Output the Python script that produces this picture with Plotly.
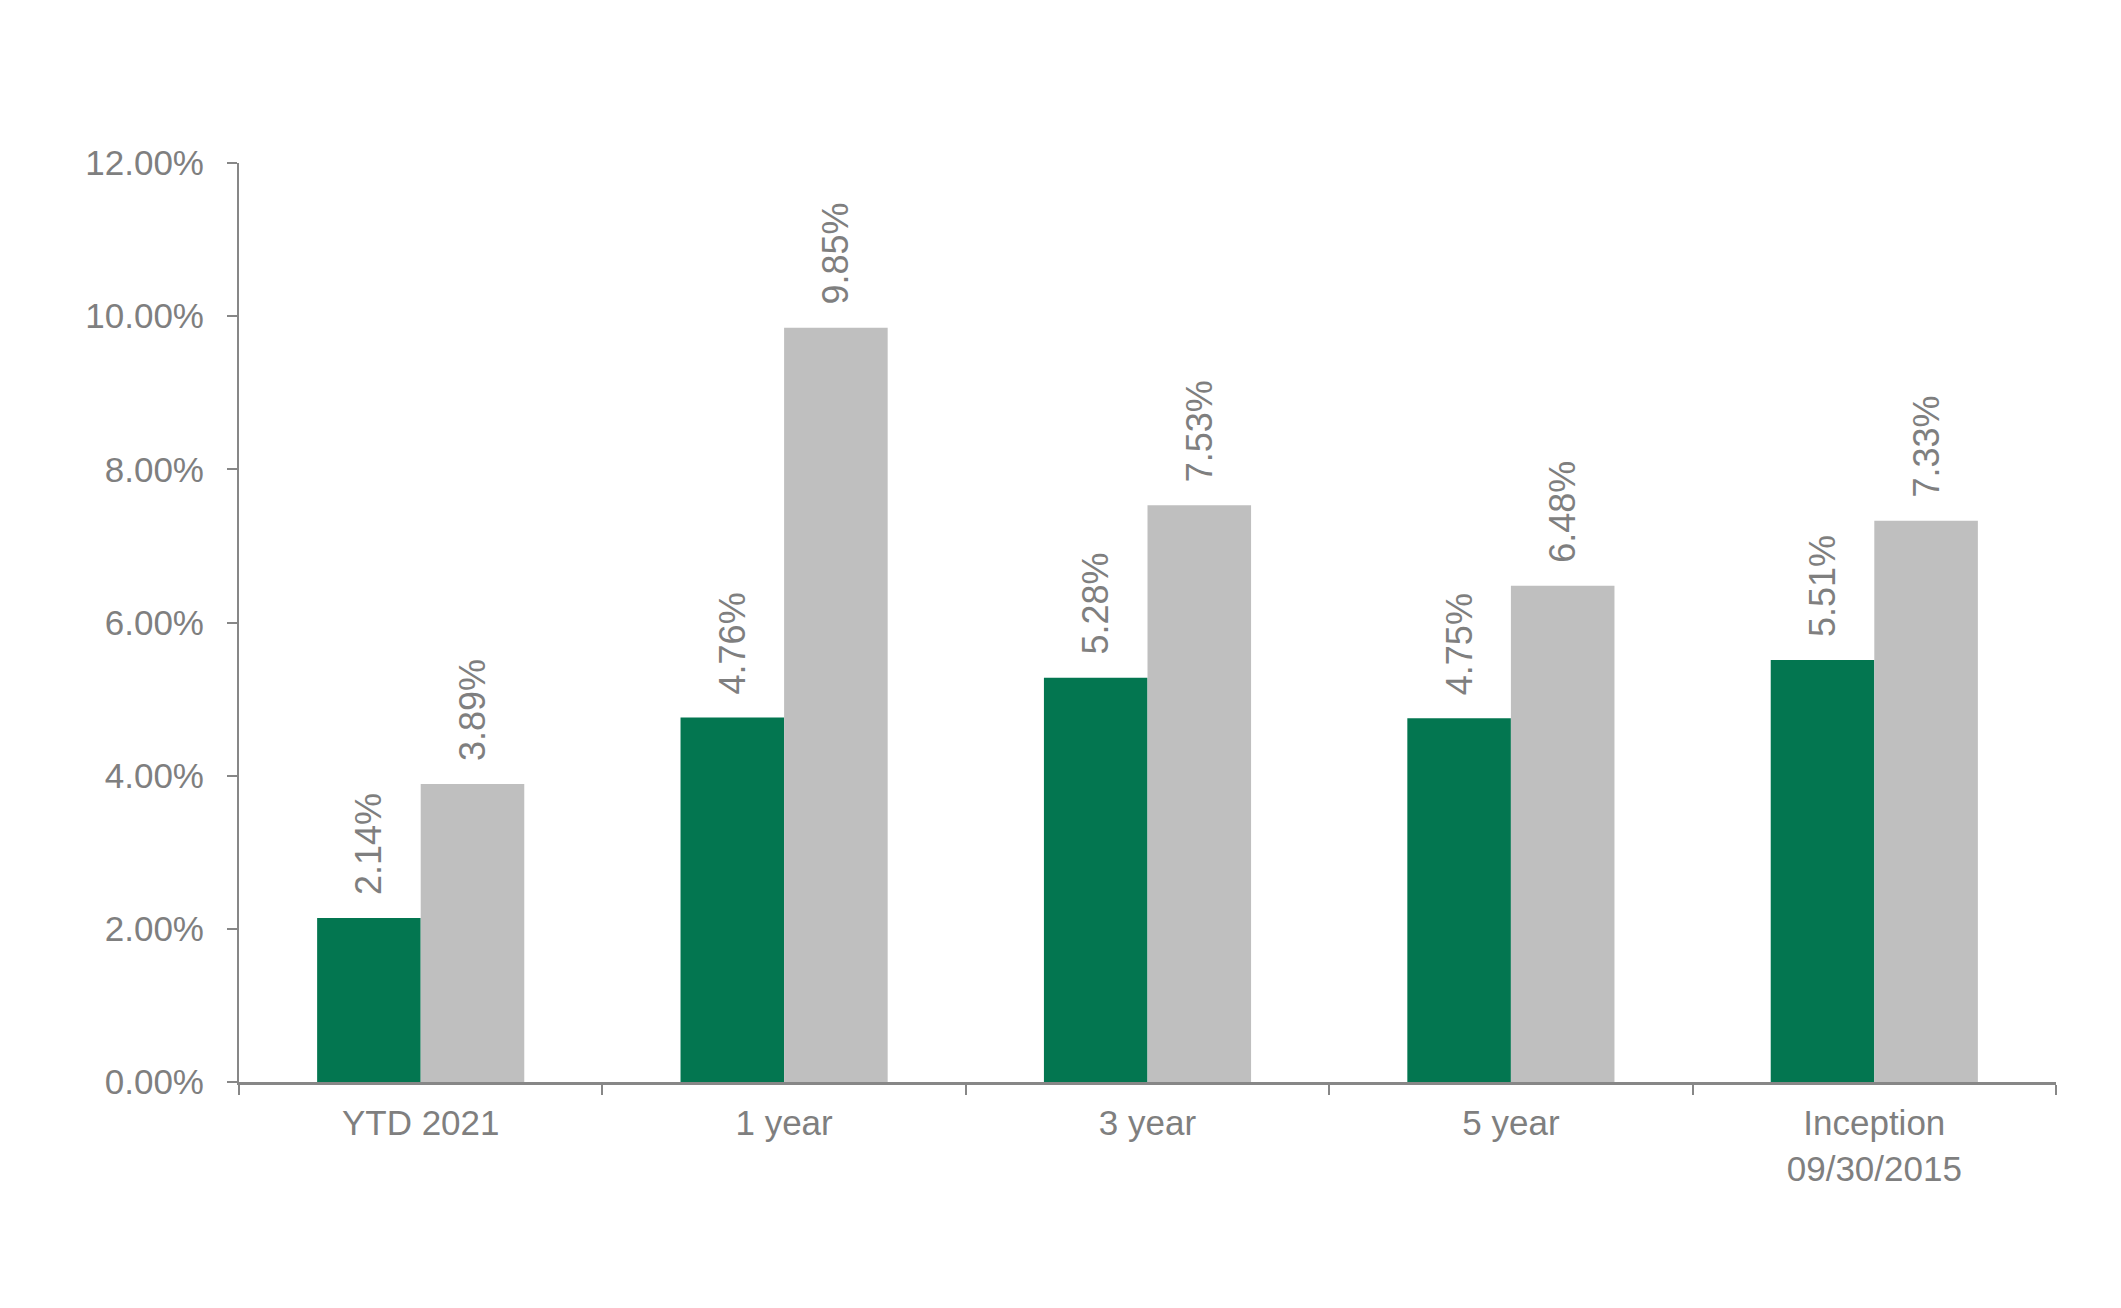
import plotly.graph_objects as go

categories = ["YTD 2021", "1 year", "3 year", "5 year", "Inception<br>09/30/2015"]
fund_returns = [2.14, 4.76, 5.28, 4.75, 5.51]
benchmark_returns = [3.89, 9.85, 7.53, 6.48, 7.33]
y_ticks = [0, 2, 4, 6, 8, 10, 12]
y_tick_labels = ["0.00%", "2.00%", "4.00%", "6.00%", "8.00%", "10.00%", "12.00%"]

GREEN = "#037650"
LIGHT_GRAY = "#BFBFBF"
TEXT_GRAY = "#7F7F7F"
AXIS_GRAY = "#878787"
FONT = "Arial, Liberation Sans, sans-serif"
# invisible leading glyph (text is rotated, so it ends up at the bottom) keeps labels off the bars
PAD = "<span style='color:rgba(0,0,0,0)'>0</span>"

fig = go.Figure()
for name, vals, color in [("Fund", fund_returns, GREEN), ("Benchmark", benchmark_returns, LIGHT_GRAY)]:
    fig.add_trace(go.Bar(
        x=categories, y=vals, name=name,
        marker=dict(color=color, line=dict(width=0)),
        text=[f"{PAD}{v:.2f}%" for v in vals],
        textposition="outside", textangle=-90, constraintext="none",
        textfont=dict(family=FONT, size=36, color=TEXT_GRAY),
        cliponaxis=False,
    ))

# page body adds an 8px offset, so the figure is a bit smaller than the window
fig.update_layout(
    width=2113, height=1300,
    barmode="group", bargap=0.43, bargroupgap=0,
    plot_bgcolor="white", paper_bgcolor="white",
    showlegend=False,
    margin=dict(l=231, r=65, t=155, b=226),
    font=dict(family=FONT, size=35, color=TEXT_GRAY),
)
fig.update_xaxes(
    showline=True, linecolor=AXIS_GRAY, linewidth=3,
    ticks="outside", tickson="boundaries", ticklen=10, tickcolor=AXIS_GRAY, tickwidth=2,
    ticklabelstandoff=8,
    tickfont=dict(family=FONT, size=35, color=TEXT_GRAY),
    showgrid=False,
)
fig.update_yaxes(
    range=[0, 12], tickvals=y_ticks, ticktext=y_tick_labels,
    showline=True, linecolor=AXIS_GRAY, linewidth=2,
    ticks="outside", ticklen=10, tickcolor=AXIS_GRAY, tickwidth=2,
    ticklabelstandoff=16,
    tickfont=dict(family=FONT, size=35, color=TEXT_GRAY),
    showgrid=False, zeroline=False,
)

fig.write_html("out.html")
